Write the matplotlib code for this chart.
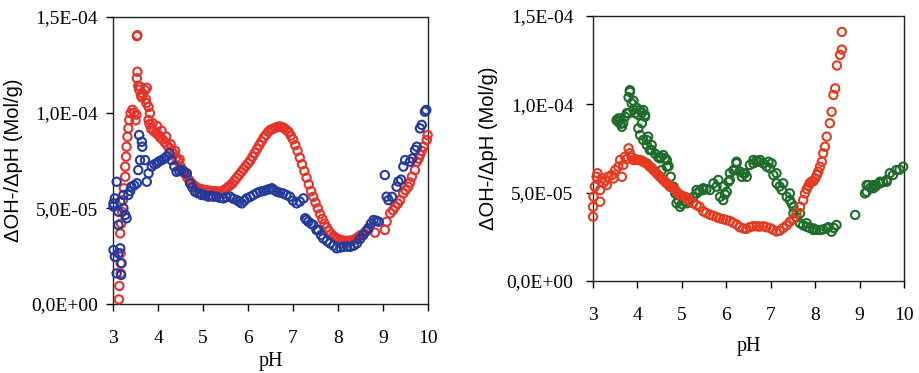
"""Buffer capacity curves dOH/dpH vs pH, two panels."""

import matplotlib
matplotlib.use("Agg")
import matplotlib.pyplot as plt
from matplotlib.ticker import FuncFormatter, MultipleLocator

SCALE = 1e-5  # values below are in units of 1E-05 Mol/g

# ---- left panel, red series ------------------------------------------------
left_red_ph = [
    3.13, 3.14, 3.17, 3.17, 3.17, 3.16, 3.18, 3.20, 3.22, 3.24, 3.27, 3.27,
    3.29, 3.30, 3.32, 3.34, 3.36, 3.39, 3.43, 3.47, 3.50, 3.52,
    3.53, 3.54, 3.54, 3.53, 3.56, 3.58, 3.60, 3.62, 3.64, 3.66, 3.71, 3.73,
    3.75, 3.74, 3.79, 3.79, 3.82, 3.81,
    3.85, 3.90, 3.95, 4.00, 4.05, 4.10, 4.15, 4.20, 4.25, 4.30, 4.35, 4.40,
    4.45, 4.50, 4.55, 4.60, 4.65, 4.70, 4.75, 4.80, 4.85, 4.90, 4.95, 5.00,
    5.05, 5.10, 5.15, 5.20, 5.25, 5.30, 5.35, 5.40, 5.45, 5.50, 5.55, 5.60,
    5.65, 5.70, 5.75, 5.80, 5.85, 5.90, 5.95, 6.00, 6.05, 6.10, 6.15, 6.20,
    6.25, 6.30, 6.35, 6.40, 6.45, 6.50, 6.55, 6.60, 6.65, 6.70, 6.75, 6.80,
    6.85, 6.90, 6.95, 7.00, 7.05, 7.10, 7.15, 7.20, 7.25, 7.30, 7.35, 7.40,
    7.45, 7.50, 7.55, 7.60, 7.65, 7.70, 7.75, 7.80, 7.85, 7.90, 7.95, 8.00,
    8.05, 8.10, 8.15, 8.20, 8.25, 8.30, 8.35, 8.40, 8.45, 8.50,
    3.88, 3.98, 4.08, 4.18, 4.28, 4.38, 4.48,
    8.58, 8.67, 8.82, 9.04, 9.08, 9.16, 9.22, 9.27, 9.33, 9.38, 9.45, 9.50,
    9.56, 9.60, 9.64, 9.71, 9.75, 9.79, 9.82, 9.86, 9.90, 9.97, 9.99,
]
left_red_val = [
    0.24, 0.94, 1.60, 2.13, 2.65, 3.69, 4.20, 4.82, 5.43, 6.05, 6.65, 7.18,
    7.70, 8.22, 8.74, 9.18, 9.62, 9.97, 10.15, 10.00, 9.60, 9.90,
    14.00, 14.05, 12.14, 11.80, 11.40, 11.20, 11.36, 10.90, 10.80, 11.00,
    11.18, 10.70, 11.30, 10.50, 10.30, 9.62, 9.97, 9.40,
    9.15, 9.05, 8.95, 8.85, 8.70, 8.60, 8.45, 8.30, 8.15, 8.00, 7.85, 7.65,
    7.45, 7.20, 7.00, 6.80, 6.60, 6.45, 6.30, 6.20, 6.10, 6.05, 6.00, 5.98,
    5.95, 5.93, 5.92, 5.90, 5.90, 5.88, 5.86, 5.88, 5.92, 6.00, 6.10, 6.20,
    6.30, 6.45, 6.60, 6.75, 6.90, 7.05, 7.20, 7.35, 7.50, 7.70, 7.90, 8.10,
    8.30, 8.50, 8.70, 8.85, 9.00, 9.10, 9.15, 9.20, 9.25, 9.28, 9.25, 9.20,
    9.10, 9.00, 8.80, 8.60, 8.30, 8.00, 7.65, 7.30, 6.95, 6.60, 6.25, 5.90,
    5.60, 5.30, 5.00, 4.70, 4.45, 4.20, 4.00, 3.80, 3.65, 3.55, 3.45, 3.40,
    3.35, 3.32, 3.30, 3.30, 3.30, 3.32, 3.35, 3.42, 3.50, 3.60,
    9.45, 9.30, 9.05, 8.75, 8.35, 8.00, 7.55,
    3.70, 3.87, 3.73, 3.87, 4.30, 4.74, 4.90, 5.09, 5.25, 5.43, 5.78, 5.95,
    6.13, 6.35, 6.65, 7.00, 7.44, 7.60, 7.79, 8.00, 8.22, 8.57, 8.83,
]

# ---- left panel, blue series -----------------------------------------------
left_blue_ph = [
    3.01, 3.01, 3.04, 3.08, 3.12, 3.16, 3.23, 3.27, 3.30, 3.12, 3.01, 3.04,
    3.16, 3.12, 3.19, 3.08, 3.18, 3.23, 3.34, 3.38, 3.41, 3.47, 3.53, 3.56,
    3.60, 3.71, 3.75, 3.79, 3.86, 3.92, 3.97, 4.02, 4.08, 4.14, 4.19, 4.25,
    3.58, 3.64, 3.65, 4.30, 4.36, 4.41, 4.47, 4.52, 4.58, 4.64, 4.71, 4.76,
    4.82, 4.88, 4.93, 4.97, 5.04, 5.12, 5.18, 5.23, 5.30, 5.37, 5.45, 5.52,
    5.60, 5.67, 5.75, 5.80, 5.86, 5.92, 5.97, 6.05, 6.12, 6.20, 6.27, 6.34,
    6.41, 6.47, 6.53, 6.58, 6.64, 6.71, 6.78, 6.85, 6.93, 7.00, 7.08, 7.15,
    7.23, 7.27, 7.30, 7.34, 7.40, 7.45, 7.52, 7.56, 7.62, 7.67, 7.75, 7.82,
    7.90, 7.97, 8.05, 8.12, 8.20, 8.27, 8.35, 8.42, 8.49, 8.56, 8.62, 8.67,
    8.73, 8.79, 8.85, 8.90, 9.04, 9.08, 9.12, 9.20, 9.30, 9.34, 9.40, 9.45,
    9.49, 9.60, 9.65, 9.71, 9.75, 9.82, 9.86, 9.93, 9.96,
]
left_blue_val = [
    5.09, 5.26, 5.52, 6.39, 4.82, 5.35, 5.00, 4.65, 4.48, 4.13, 2.82, 2.47,
    2.91, 2.65, 2.13, 1.60, 1.52, 5.70, 5.70, 5.90, 6.13, 6.20, 6.31, 7.00,
    7.52, 7.52, 6.39, 6.83, 7.18, 7.30, 7.35, 7.45, 7.52, 7.60, 7.70, 7.88,
    8.83, 8.48, 8.22, 7.52, 7.20, 6.91, 6.95, 7.00, 6.90, 6.83, 6.31, 6.10,
    5.87, 5.80, 5.78, 5.70, 5.68, 5.61, 5.65, 5.61, 5.61, 5.55, 5.52, 5.58,
    5.61, 5.50, 5.43, 5.35, 5.26, 5.40, 5.52, 5.60, 5.70, 5.80, 5.87, 5.90,
    5.96, 6.00, 6.05, 5.95, 5.87, 5.82, 5.78, 5.70, 5.61, 5.40, 5.26, 5.35,
    5.52, 4.48, 4.40, 4.30, 4.20, 4.13, 3.87, 3.87, 3.60, 3.43, 3.30, 3.17,
    3.05, 2.91, 2.95, 2.99, 3.00, 2.99, 3.05, 3.17, 3.40, 3.60, 3.80, 3.96,
    4.20, 4.39, 4.35, 4.30, 6.74, 5.61, 5.43, 5.60, 6.13, 6.40, 6.50, 7.18,
    7.52, 7.44, 7.60, 8.05, 8.22, 9.18, 9.36, 10.05, 10.14,
]

# ---- right panel, green series ---------------------------------------------
right_green_ph = [
    3.53, 3.57, 3.57, 3.61, 3.62, 3.65, 3.68, 3.72, 3.76, 3.80, 3.80, 3.83,
    3.83, 3.87, 3.91, 3.91, 3.95, 3.98, 4.02, 4.06, 4.10, 4.13, 4.17, 4.17,
    4.10, 4.02, 4.06, 4.13, 4.21, 4.24, 4.21, 4.28, 4.32, 4.32, 4.40, 4.47,
    4.51, 4.51, 4.58, 4.62, 4.66, 4.66, 4.70, 4.55, 4.75, 4.81, 4.85, 4.88,
    4.92, 4.96, 5.00, 5.07, 5.11, 5.18, 5.25, 5.33, 5.33, 5.40, 5.48, 5.48,
    5.55, 5.63, 5.71, 5.78, 5.82, 5.86, 5.93, 5.93, 5.97, 6.01, 6.05, 6.08,
    6.08, 6.16, 6.20, 6.23, 6.23, 6.30, 6.35, 6.38, 6.42, 6.46, 6.53, 6.61,
    6.61, 6.68, 6.72, 6.76, 6.83, 6.91, 6.95, 6.98, 7.02, 7.06, 7.13, 7.13,
    7.20, 7.25, 7.28, 7.36, 7.43, 7.43, 7.47, 7.51, 7.51, 7.58, 7.66, 7.66,
    7.73, 7.81, 7.81, 7.88, 7.96, 7.96, 8.03, 8.11, 8.18, 8.26, 8.30, 8.37,
    8.42, 8.48, 8.90, 9.12, 9.16, 9.16, 9.20, 9.25, 9.31, 9.31, 9.38, 9.46,
    9.46, 9.53, 9.61, 9.61, 9.68, 9.75, 9.83, 9.90, 9.98,
]
right_green_val = [
    9.10, 9.20, 9.00, 9.20, 8.90, 8.73, 8.93, 9.30, 9.50, 9.49, 10.40, 10.80,
    10.70, 10.06, 10.20, 9.70, 9.50, 9.80, 9.40, 9.68, 9.50, 9.68, 9.30, 9.40,
    8.93, 8.64, 8.26, 7.98, 7.98, 8.17, 7.70, 7.41, 7.70, 7.41, 7.20, 7.00,
    6.94, 7.04, 7.13, 6.95, 6.85, 6.47, 6.50, 6.28, 5.90, 5.34, 4.96, 4.40,
    4.58, 4.20, 4.35, 4.49, 4.40, 4.58, 4.75, 4.96, 5.15, 5.10, 5.15, 5.25,
    5.20, 5.15, 5.53, 5.34, 5.72, 4.77, 4.58, 5.34, 4.90, 5.05, 5.62, 5.72,
    6.10, 6.28, 6.28, 6.66, 6.75, 6.20, 5.90, 6.10, 6.10, 5.90, 6.57, 6.66,
    6.85, 6.80, 6.75, 6.85, 6.66, 6.47, 6.75, 6.38, 6.66, 6.00, 6.10, 5.53,
    5.35, 5.15, 5.53, 4.77, 4.96, 4.58, 4.40, 4.20, 3.83, 3.60, 3.83, 3.27,
    3.15, 3.27, 3.07, 3.00, 2.98, 2.89, 2.90, 2.89, 2.92, 2.98, 3.05, 2.79,
    3.00, 3.17, 3.74, 4.96, 5.05, 5.43, 5.43, 5.30, 5.43, 5.25, 5.40, 5.53,
    5.62, 5.60, 5.62, 5.72, 6.10, 6.00, 6.28, 6.30, 6.47,
]

# ---- right panel, red series -----------------------------------------------
right_red_ph = [
    3.00, 3.00, 3.01, 3.04, 3.08, 3.10, 3.16, 3.16, 3.20, 3.23, 3.28, 3.31,
    3.34, 3.42, 3.46, 3.50, 3.57, 3.61, 3.65, 3.68, 3.72, 3.76, 3.80, 3.83,
    3.87, 3.91, 3.95, 3.98, 4.02, 4.06, 4.10, 4.13, 4.17, 4.21, 4.25, 4.28,
    4.32, 4.36, 4.40, 4.43, 4.47, 4.51, 4.55, 4.58, 4.62, 4.66, 4.70, 4.73,
    4.77, 4.81, 4.85, 4.88, 4.92, 4.96, 5.00, 5.07, 5.12, 5.18, 5.25, 5.33,
    5.40, 5.48, 5.55, 5.63, 5.70, 5.78, 5.85, 5.93, 6.00, 6.08, 6.15, 6.23,
    6.30, 6.38, 6.45, 6.53, 6.60, 6.68, 6.75, 6.83, 6.90, 6.98, 7.05, 7.13,
    7.20, 7.28, 7.36, 7.43, 7.51, 7.58, 7.66, 7.73, 7.77, 7.81, 7.85, 7.88,
    7.92, 7.96, 8.00, 8.04, 8.07, 8.11, 8.15, 8.18, 8.22, 8.26, 8.33, 8.37,
    8.41, 8.45, 8.49, 8.56, 8.60, 8.60,
]
right_red_val = [
    3.64, 4.20, 4.77, 5.34, 5.90, 6.10, 4.49, 5.15, 5.81, 5.55, 5.70, 5.43,
    5.90, 6.00, 5.80, 6.28, 6.47, 6.85, 5.90, 6.57, 7.04, 6.90, 7.51, 7.23,
    7.00, 6.85, 6.90, 6.85, 6.85, 6.85, 6.80, 6.75, 6.70, 6.66, 6.55, 6.47,
    6.40, 6.28, 6.20, 6.10, 6.00, 5.90, 5.80, 5.72, 5.62, 5.53, 5.45, 5.34,
    5.30, 5.25, 5.15, 5.05, 4.95, 4.87, 4.82, 4.77, 4.65, 4.55, 4.40, 4.30,
    4.20, 3.95, 3.85, 3.75, 3.70, 3.62, 3.55, 3.50, 3.45, 3.40, 3.30, 3.20,
    3.05, 2.98, 2.95, 3.05, 3.10, 3.10, 3.08, 3.10, 3.05, 3.00, 2.90, 2.80,
    2.85, 3.00, 3.15, 3.35, 3.50, 3.83, 4.20, 4.58, 4.96, 5.20, 5.40, 5.55,
    5.62, 5.65, 5.81, 6.00, 6.19, 6.47, 6.75, 7.23, 7.60, 8.17, 8.93, 9.58,
    10.53, 10.90, 12.20, 12.80, 13.10, 14.10,
]

RED = "#e5322a"
BLUE = "#23399b"
GREEN = "#1f6b2b"
RED2 = "#e33a20"

SERIF = ["Liberation Serif", "DejaVu Serif"]
SANS = ["Liberation Sans", "DejaVu Sans"]
YLABEL = "\u0394OH-/\u0394pH (Mol/g)"


def sci_comma(v, _pos):
    return f"{v:.1E}".replace(".", ",")


def style_axes(ax, ypad, label_pad):
    ax.set_xlim(3, 10)
    ax.set_ylim(0, 1.5e-4)
    ax.xaxis.set_major_locator(MultipleLocator(1))
    ax.yaxis.set_major_locator(MultipleLocator(5e-5))
    ax.yaxis.set_major_formatter(FuncFormatter(sci_comma))
    ax.tick_params(direction="out", length=5, width=1, labelsize=14)
    ax.tick_params(axis="x", pad=14)
    ax.tick_params(axis="y", pad=ypad)
    for lab in ax.get_xticklabels() + ax.get_yticklabels():
        lab.set_family(SERIF)
    for sp in ax.spines.values():
        sp.set_linewidth(1.0)
        sp.set_color("#222222")
    ax.set_xlabel("pH", family=SERIF, fontsize=14.5, labelpad=label_pad)
    ax.set_ylabel(YLABEL, family=SANS, fontsize=14.5, labelpad=6)


def dots(ax, xs, ys, color):
    ax.scatter(xs, [v * SCALE for v in ys], s=36, facecolors="none",
               edgecolors=color, linewidths=1.5, clip_on=False, zorder=3)


fig = plt.figure(figsize=(9.19, 3.73), dpi=100)
ax1 = fig.add_axes([0.1230, 0.185, 0.3428, 0.7694])
ax2 = fig.add_axes([0.6453, 0.2466, 0.3384, 0.7105])

dots(ax1, left_red_ph, left_red_val, RED)
dots(ax1, left_blue_ph, left_blue_val, BLUE)
style_axes(ax1, ypad=6, label_pad=3)

dots(ax2, right_green_ph, right_green_val, GREEN)
dots(ax2, right_red_ph, right_red_val, RED2)
style_axes(ax2, ypad=9, label_pad=9)

fig.savefig("out.png", dpi=100)
